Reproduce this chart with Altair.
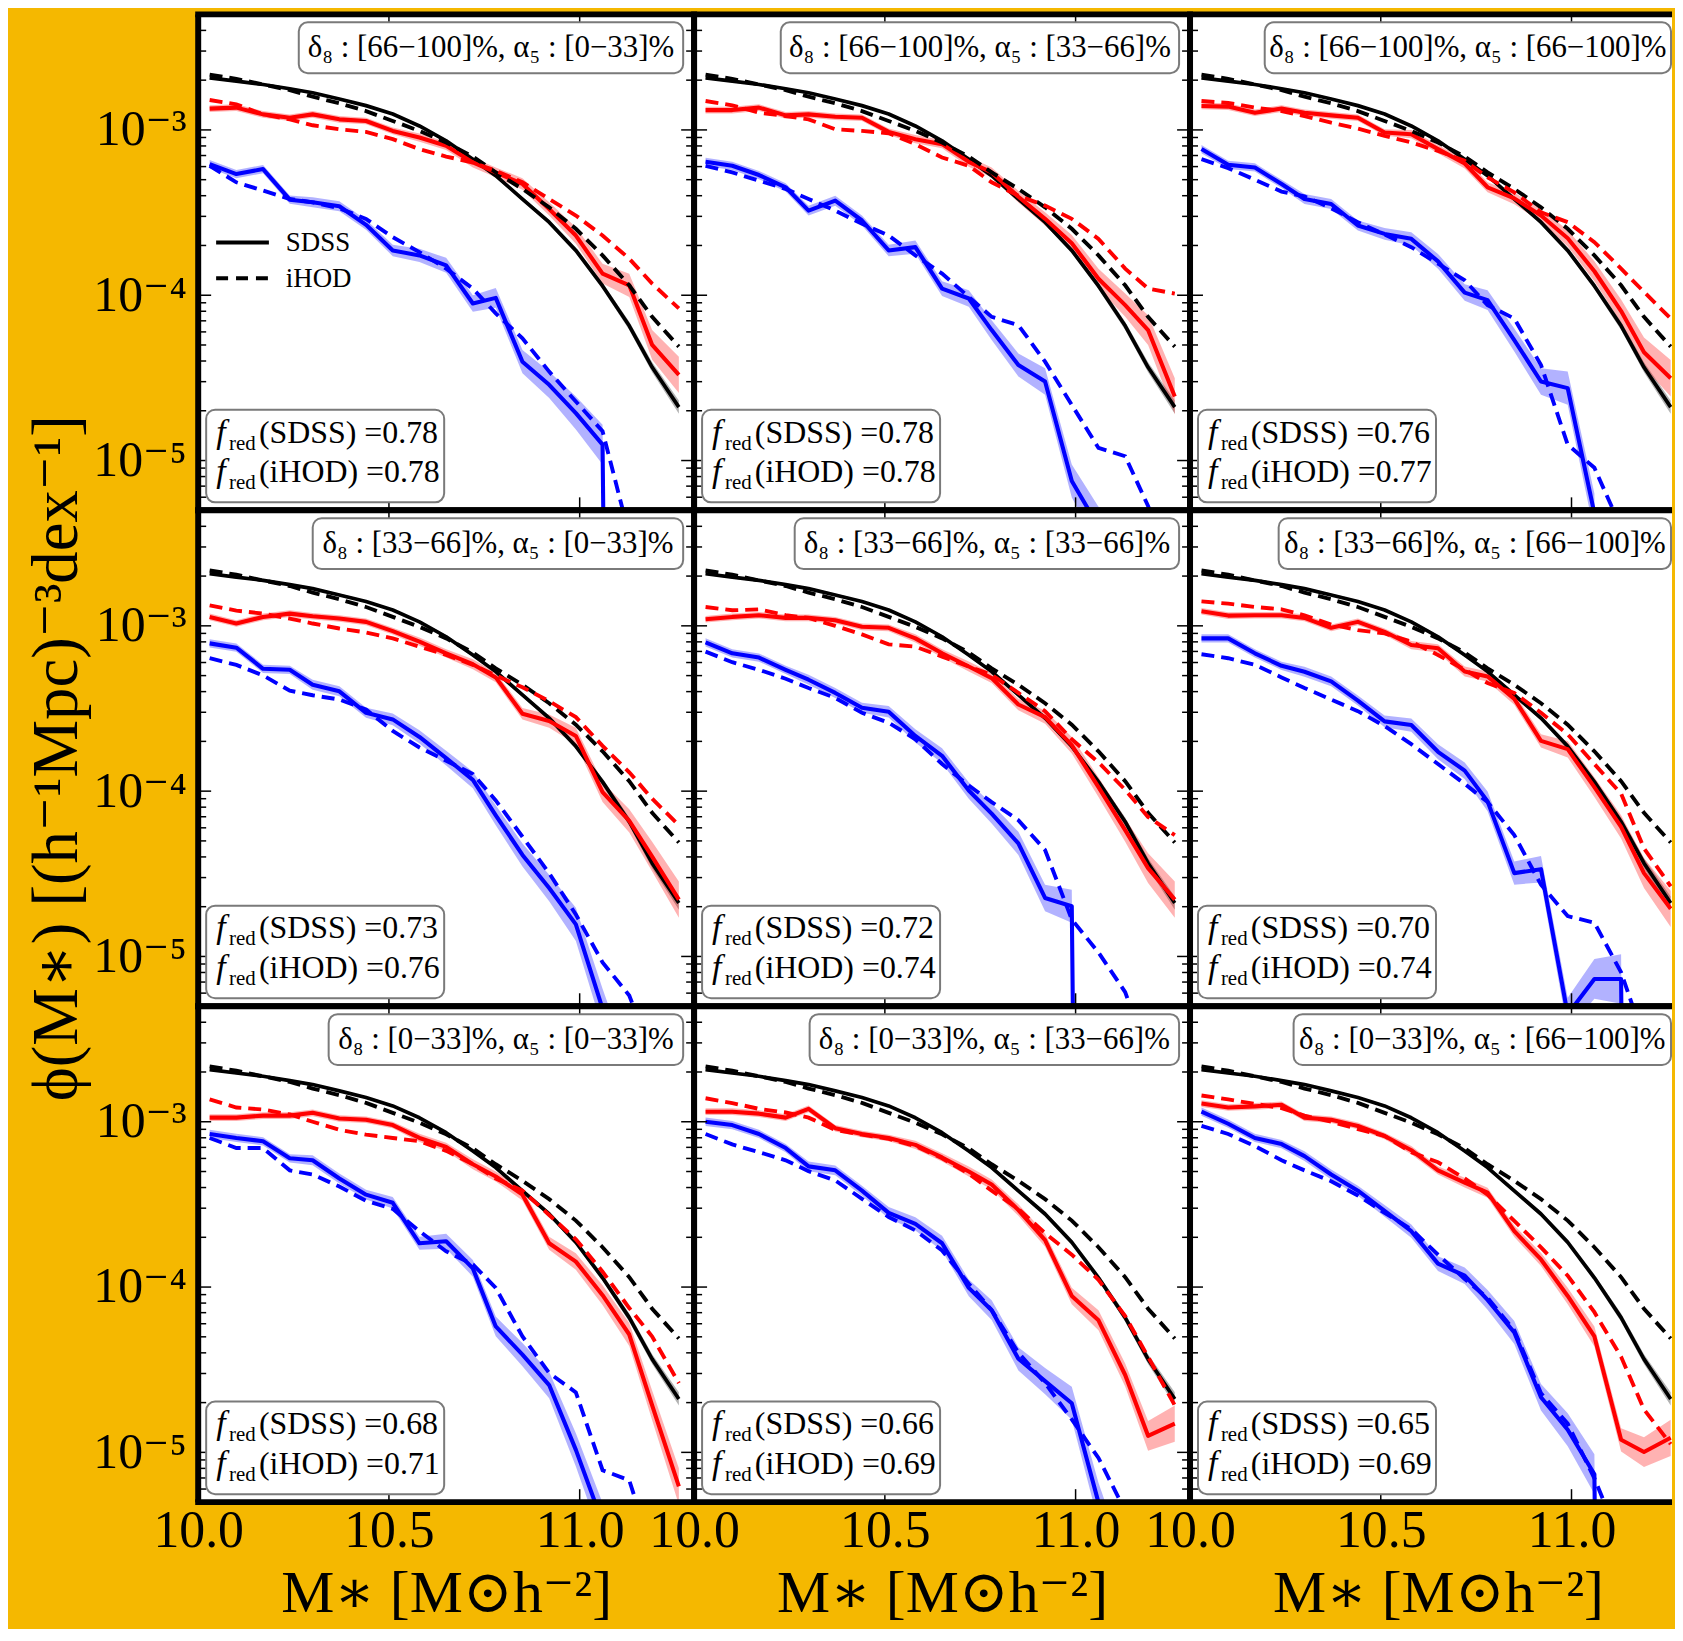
import altair as alt
import pandas as pd

# ---------------- values ----------------
MASS = [10.03, 10.10, 10.17, 10.24, 10.30, 10.37, 10.44, 10.51, 10.58, 10.65,
        10.72, 10.78, 10.85, 10.92, 10.99, 11.06, 11.13, 11.19, 11.26]

D8_BINS = ["[66−100]%", "[33−66]%", "[0−33]%"]      # panel rows
A5_BINS = ["[0−33]%", "[33−66]%", "[66−100]%"]      # panel columns
F_RED_SDSS = [0.78, 0.78, 0.76, 0.73, 0.72, 0.70, 0.68, 0.66, 0.65]
F_RED_IHOD = [0.78, 0.78, 0.77, 0.76, 0.74, 0.74, 0.71, 0.69, 0.69]

E = -20.0  # log10 of an empty bin (phi = 0)

# log10 phi, all galaxies (identical in every panel)
ALL_SDSS = [-2.685, -2.705, -2.725, -2.751, -2.775, -2.813, -2.853, -2.904, -2.976, -3.066,
            -3.177, -3.277, -3.418, -3.558, -3.729, -3.944, -4.185, -4.436, -4.677]
ALL_IHOD = [-2.665, -2.691, -2.725, -2.759, -2.799, -2.839, -2.886, -2.946, -3.006, -3.076,
            -3.161, -3.257, -3.357, -3.468, -3.598, -3.759, -3.940, -4.131, -4.311]

RED_SDSS = [
    [-2.871, -2.865, -2.906, -2.926, -2.906, -2.936, -2.946, -3.006, -3.046, -3.096, -3.197, -3.257, -3.327, -3.478, -3.639, -3.869, -3.940, -4.301, -4.482],
    [-2.880, -2.880, -2.865, -2.912, -2.906, -2.920, -2.926, -3.012, -3.056, -3.086, -3.193, -3.257, -3.404, -3.538, -3.685, -3.900, -4.060, -4.211, -4.612],
    [-2.855, -2.859, -2.896, -2.871, -2.896, -2.912, -2.926, -3.016, -3.026, -3.116, -3.203, -3.347, -3.414, -3.518, -3.655, -3.855, -4.096, -4.345, -4.502],
    [-2.946, -2.986, -2.946, -2.926, -2.942, -2.956, -2.976, -3.032, -3.096, -3.166, -3.232, -3.312, -3.532, -3.576, -3.666, -4.006, -4.180, -4.396, -4.656],
    [-2.960, -2.946, -2.936, -2.952, -2.952, -2.966, -3.006, -3.012, -3.076, -3.166, -3.246, -3.316, -3.476, -3.552, -3.722, -3.976, -4.236, -4.466, -4.656],
    [-2.912, -2.938, -2.936, -2.936, -2.952, -3.012, -2.976, -3.036, -3.116, -3.136, -3.276, -3.306, -3.442, -3.696, -3.746, -3.976, -4.216, -4.496, -4.712],
    [-2.975, -2.975, -2.963, -2.963, -2.946, -2.980, -2.988, -3.020, -3.098, -3.152, -3.257, -3.331, -3.441, -3.735, -3.846, -4.049, -4.287, -4.716, -5.206],
    [-2.939, -2.939, -2.951, -2.975, -2.922, -3.039, -3.074, -3.098, -3.140, -3.216, -3.301, -3.380, -3.534, -3.716, -4.054, -4.201, -4.532, -4.900, -4.826],
    [-2.890, -2.914, -2.907, -2.897, -2.975, -2.988, -3.025, -3.086, -3.172, -3.294, -3.368, -3.429, -3.662, -3.833, -4.054, -4.299, -4.924, -4.998, -4.912],
]
RED_IHOD = [
    [-2.819, -2.845, -2.906, -2.936, -2.972, -2.996, -3.012, -3.056, -3.116, -3.161, -3.197, -3.247, -3.317, -3.418, -3.518, -3.639, -3.779, -3.930, -4.080],
    [-2.825, -2.851, -2.896, -2.916, -2.936, -2.996, -3.006, -3.020, -3.086, -3.167, -3.217, -3.317, -3.398, -3.458, -3.538, -3.659, -3.839, -3.960, -3.990],
    [-2.825, -2.837, -2.865, -2.886, -2.916, -2.956, -2.992, -3.036, -3.076, -3.127, -3.187, -3.287, -3.378, -3.498, -3.558, -3.679, -3.839, -3.980, -4.141],
    [-2.876, -2.908, -2.926, -2.956, -2.986, -3.016, -3.040, -3.076, -3.126, -3.176, -3.236, -3.300, -3.372, -3.456, -3.552, -3.726, -3.886, -4.046, -4.206],
    [-2.886, -2.906, -2.900, -2.936, -2.952, -3.000, -3.052, -3.112, -3.126, -3.186, -3.246, -3.296, -3.406, -3.516, -3.686, -3.826, -3.992, -4.156, -4.266],
    [-2.852, -2.866, -2.886, -2.900, -2.936, -2.992, -3.026, -3.046, -3.096, -3.176, -3.266, -3.346, -3.406, -3.526, -3.656, -3.836, -4.016, -4.346, -4.576],
    [-2.865, -2.914, -2.926, -2.956, -3.000, -3.049, -3.078, -3.098, -3.118, -3.176, -3.257, -3.343, -3.417, -3.564, -3.711, -3.907, -4.127, -4.299, -4.581],
    [-2.858, -2.887, -2.922, -2.944, -2.975, -3.049, -3.078, -3.103, -3.147, -3.221, -3.314, -3.417, -3.527, -3.674, -3.804, -3.956, -4.176, -4.422, -4.716],
    [-2.841, -2.865, -2.892, -2.917, -2.963, -3.000, -3.044, -3.086, -3.184, -3.245, -3.343, -3.441, -3.600, -3.760, -3.931, -4.152, -4.422, -4.740, -4.950],
]
BLUE_SDSS = [
    [-3.207, -3.267, -3.237, -3.422, -3.438, -3.462, -3.574, -3.729, -3.759, -3.819, -4.050, -4.016, -4.402, -4.542, -4.713, -4.904, E, E, E],
    [-3.193, -3.217, -3.273, -3.347, -3.488, -3.428, -3.548, -3.729, -3.709, -3.960, -4.020, -4.211, -4.422, -4.522, -5.124, -5.400, -5.500, -6.000, E],
    [-3.116, -3.211, -3.227, -3.327, -3.418, -3.448, -3.578, -3.629, -3.659, -3.795, -3.984, -4.030, -4.271, -4.522, -4.562, -5.320, E, E, E],
    [-3.106, -3.132, -3.260, -3.266, -3.356, -3.396, -3.526, -3.566, -3.672, -3.800, -3.932, -4.146, -4.386, -4.586, -4.806, -5.316, -5.800, E, E],
    [-3.100, -3.166, -3.192, -3.266, -3.326, -3.406, -3.496, -3.520, -3.666, -3.786, -3.996, -4.136, -4.316, -4.646, -4.696, E, E, E, E],
    [-3.076, -3.076, -3.166, -3.242, -3.278, -3.336, -3.452, -3.578, -3.600, -3.762, -3.876, -4.062, -4.496, -4.472, -5.350, -5.136, -5.136, E, E],
    [-3.074, -3.098, -3.118, -3.221, -3.233, -3.343, -3.441, -3.490, -3.735, -3.723, -3.887, -4.238, -4.409, -4.593, -4.985, -5.426, -5.450, -5.600, E],
    [-3.000, -3.020, -3.074, -3.159, -3.270, -3.294, -3.417, -3.551, -3.618, -3.735, -4.005, -4.140, -4.434, -4.569, -4.703, -5.304, -5.800, E, E],
    [-2.939, -3.012, -3.098, -3.135, -3.208, -3.319, -3.417, -3.539, -3.662, -3.858, -3.931, -4.078, -4.275, -4.667, -4.863, -5.132, E, E, E],
]
BLUE_IHOD = [
    [-3.217, -3.317, -3.367, -3.418, -3.438, -3.474, -3.538, -3.649, -3.739, -3.839, -3.960, -4.110, -4.261, -4.462, -4.643, -4.823, -5.450, -5.800, -6.200],
    [-3.217, -3.257, -3.307, -3.357, -3.418, -3.488, -3.568, -3.639, -3.759, -3.869, -4.010, -4.131, -4.181, -4.402, -4.663, -4.924, -4.974, -5.275, -5.700],
    [-3.177, -3.231, -3.301, -3.373, -3.402, -3.474, -3.558, -3.633, -3.709, -3.809, -3.910, -4.060, -4.141, -4.422, -4.904, -5.044, -5.406, -5.800, -6.200],
    [-3.196, -3.236, -3.300, -3.392, -3.420, -3.446, -3.506, -3.636, -3.736, -3.816, -3.896, -4.056, -4.276, -4.496, -4.746, -5.036, -5.236, -5.600, -6.000],
    [-3.156, -3.220, -3.266, -3.320, -3.376, -3.436, -3.526, -3.586, -3.686, -3.836, -3.966, -4.066, -4.176, -4.356, -4.776, -4.976, -5.216, -5.600, -6.000],
    [-3.172, -3.196, -3.236, -3.312, -3.376, -3.446, -3.516, -3.606, -3.716, -3.836, -3.956, -4.066, -4.266, -4.566, -4.756, -4.796, -5.096, -5.500, -6.000],
    [-3.098, -3.159, -3.159, -3.294, -3.319, -3.392, -3.478, -3.527, -3.662, -3.784, -3.863, -4.005, -4.299, -4.520, -4.637, -5.108, -5.169, -5.600, -6.000],
    [-3.074, -3.137, -3.184, -3.233, -3.299, -3.355, -3.466, -3.576, -3.657, -3.779, -3.980, -4.140, -4.397, -4.581, -4.801, -5.034, -5.353, -5.800, -6.200],
    [-3.025, -3.074, -3.147, -3.233, -3.294, -3.360, -3.446, -3.551, -3.650, -3.804, -3.951, -4.066, -4.262, -4.642, -4.826, -5.157, -5.549, -6.000, -6.400],
]

# half widths (dex) of the shaded SDSS uncertainty bands
BAND_ALL = [0.008, 0.008, 0.008, 0.008, 0.008, 0.008, 0.008, 0.008, 0.008, 0.010,
            0.010, 0.012, 0.012, 0.015, 0.018, 0.020, 0.025, 0.030, 0.040]
BAND_RED = [0.020, 0.020, 0.020, 0.020, 0.020, 0.020, 0.020, 0.020, 0.025, 0.025,
            0.030, 0.030, 0.035, 0.040, 0.050, 0.060, 0.070, 0.090, 0.110]
BAND_BLUE = [0.025, 0.025, 0.025, 0.025, 0.030, 0.030, 0.030, 0.035, 0.040, 0.045,
             0.050, 0.060, 0.070, 0.080, 0.100, 0.120, 0.150, 0.200, 0.200]

X_LABELS = [10.0, 10.5, 11.0]
X_INNER_TICKS = [10.5, 11.0]
Y_MAJOR = [1e-3, 1e-4, 1e-5]
Y_MINOR = [6e-6, 7e-6, 8e-6, 9e-6,
           2e-5, 3e-5, 4e-5, 5e-5, 6e-5, 7e-5, 8e-5, 9e-5,
           2e-4, 3e-4, 4e-4, 5e-4, 6e-4, 7e-4, 8e-4, 9e-4,
           2e-3, 3e-3, 4e-3]

# ---------------- layout / style ----------------
SERIF = "Liberation Serif, DejaVu Serif, serif"
ORANGE = "#F5B800"
RED, BLUE, BLACK = "#FF0000", "#0000FF", "#000000"
DASH = [13, 7]
W, H = 498, 498
W_LAST = 484
X_MAX = 11.3
X_MAX_LAST = 10.0 + 1.3 * W_LAST / W
BOX_W = [386, 400, 408, 372, 386, 394, 356, 371, 379]
ONE = pd.DataFrame({"k": [0]})


def line_table(vals):
    return pd.DataFrame({"mass": MASS, "phi": [10.0 ** v for v in vals]})


def band_table(vals, band):
    return pd.DataFrame({
        "mass": MASS,
        "lo": [10.0 ** (v - b) for v, b in zip(vals, band)],
        "hi": [10.0 ** (v + b) for v, b in zip(vals, band)],
    })


def make_panel(i):
    r, c = divmod(i, 3)
    last = c == 2
    w = W_LAST if last else W
    xs = alt.Scale(domain=[10.0, X_MAX_LAST if last else X_MAX], nice=False, zero=False)
    ys = alt.Scale(type="log", domain=[5e-6, 5e-3], nice=False)
    if r == 2:
        xa = alt.Axis(values=X_LABELS, format=".1f", labelFont=SERIF, labelFontSize=52,
                      labelColor="black", labelPadding=4, labelFlush=False, labelOverlap=False,
                      ticks=False, tickSize=0, domain=False, grid=False,
                      title="M∗ [M⊙h⁻²]", titleFont=SERIF, titleFontSize=60,
                      titleFontWeight="normal", titleColor="black", titleX=W / 2, titleY=110,
                      titleAlign="center", titleBaseline="alphabetic")
    else:
        xa = None
    if c == 0:
        ya = alt.Axis(values=Y_MAJOR,
                      labelExpr="datum.value > 5e-4 ? '10⁻³' : (datum.value > 5e-5 ? '10⁻⁴' : '10⁻⁵')",
                      labelFont=SERIF, labelFontSize=50, labelColor="black", labelPadding=12,
                      labelFlush=False, labelOverlap=False, ticks=False, tickSize=0,
                      domain=False, grid=False, title=None)
    else:
        ya = None

    def X(f):
        return alt.X(f, type="quantitative", scale=xs, axis=xa)

    def Y(f):
        return alt.Y(f, type="quantitative", scale=ys, axis=ya)

    layers = []
    # uncertainty bands
    for vals, band, col in [(ALL_SDSS, BAND_ALL, BLACK), (RED_SDSS[i], BAND_RED, RED),
                            (BLUE_SDSS[i], BAND_BLUE, BLUE)]:
        layers.append(alt.Chart(band_table(vals, band)).mark_area(
            clip=True, color=col, opacity=0.3).encode(x=X("mass"), y=Y("lo"), y2=alt.Y2("hi")))
    # SDSS solid lines
    for vals, col, sw in [(ALL_SDSS, BLACK, 3.7), (RED_SDSS[i], RED, 4.1), (BLUE_SDSS[i], BLUE, 4.1)]:
        layers.append(alt.Chart(line_table(vals)).mark_line(
            clip=True, color=col, strokeWidth=sw, strokeJoin="round").encode(x=X("mass"), y=Y("phi")))
    # iHOD dashed lines
    for vals, col in [(ALL_IHOD, BLACK), (RED_IHOD[i], RED), (BLUE_IHOD[i], BLUE)]:
        layers.append(alt.Chart(line_table(vals)).mark_line(
            clip=True, color=col, strokeWidth=3.9, strokeDash=DASH).encode(x=X("mass"), y=Y("phi")))

    # inward ticks
    tk = dict(color="black", strokeWidth=1.5)
    ymaj = pd.DataFrame({"v": Y_MAJOR})
    ymin = pd.DataFrame({"v": Y_MINOR})
    xin = pd.DataFrame({"v": X_INNER_TICKS})
    layers.append(alt.Chart(ymaj).mark_rule(**tk).encode(y=Y("v"), x=alt.value(0), x2=alt.value(13)))
    layers.append(alt.Chart(ymin).mark_rule(**tk).encode(y=Y("v"), x=alt.value(0), x2=alt.value(8)))
    if not last:
        layers.append(alt.Chart(ymaj).mark_rule(**tk).encode(y=Y("v"), x=alt.value(W), x2=alt.value(W - 13)))
        layers.append(alt.Chart(ymin).mark_rule(**tk).encode(y=Y("v"), x=alt.value(W), x2=alt.value(W - 8)))
    layers.append(alt.Chart(xin).mark_rule(**tk).encode(x=X("v"), y=alt.value(0), y2=alt.value(13)))
    layers.append(alt.Chart(xin).mark_rule(**tk).encode(x=X("v"), y=alt.value(H), y2=alt.value(H - 13)))

    # thick frame
    fr = dict(color="black", strokeWidth=6)
    xr = w if last else w + 3
    layers.append(alt.Chart(ONE).mark_rule(**fr).encode(x=alt.value(-3), x2=alt.value(xr), y=alt.value(0)))
    layers.append(alt.Chart(ONE).mark_rule(**fr).encode(x=alt.value(-3), x2=alt.value(xr), y=alt.value(H)))
    layers.append(alt.Chart(ONE).mark_rule(**fr).encode(x=alt.value(0), y=alt.value(0), y2=alt.value(H)))
    if not last:
        layers.append(alt.Chart(ONE).mark_rule(**fr).encode(x=alt.value(W), y=alt.value(0), y2=alt.value(H)))

    # top-right selection box
    bx2 = (w - 1) if last else (W - 11)
    bx1 = bx2 - BOX_W[i]
    box = dict(fill="white", stroke="#7a7a7a", strokeWidth=2, cornerRadius=9)
    layers.append(alt.Chart(ONE).mark_rect(**box).encode(
        x=alt.value(bx1), x2=alt.value(bx2), y=alt.value(8), y2=alt.value(59)))
    sel = f"δ₈ : {D8_BINS[r]}, α₅ : {A5_BINS[c]}"
    layers.append(alt.Chart(pd.DataFrame({"t": [sel]})).mark_text(
        font=SERIF, fontSize=31, color="black", align="center", baseline="middle").encode(
        x=alt.value((bx1 + bx2) / 2), y=alt.value(34), text="t:N"))

    # f_red box
    layers.append(alt.Chart(ONE).mark_rect(**box).encode(
        x=alt.value(8), x2=alt.value(247), y=alt.value(397), y2=alt.value(490)))
    txt = dict(font=SERIF, color="black", align="left", baseline="alphabetic",
               lineBreak="\n", lineHeight=40)
    layers.append(alt.Chart(pd.DataFrame({"t": ["f\nf"]})).mark_text(
        fontSize=34, fontStyle="italic", **txt).encode(x=alt.value(18), y=alt.value(430), text="t:N"))
    layers.append(alt.Chart(pd.DataFrame({"t": ["red\nred"]})).mark_text(
        fontSize=21, **txt).encode(x=alt.value(31), y=alt.value(437), text="t:N"))
    vals_txt = f"(SDSS) ={F_RED_SDSS[i]:.2f}\n(iHOD) ={F_RED_IHOD[i]:.2f}"
    layers.append(alt.Chart(pd.DataFrame({"t": [vals_txt]})).mark_text(
        fontSize=32, **txt).encode(x=alt.value(61), y=alt.value(430), text="t:N"))

    if i == 0:  # legend
        layers.append(alt.Chart(ONE).mark_rule(color="black", strokeWidth=4).encode(
            x=alt.value(18), x2=alt.value(71), y=alt.value(229)))
        layers.append(alt.Chart(ONE).mark_rule(color="black", strokeWidth=4, strokeDash=[12, 8]).encode(
            x=alt.value(18), x2=alt.value(71), y=alt.value(265)))
        layers.append(alt.Chart(pd.DataFrame({"t": ["SDSS\niHOD"]})).mark_text(
            font=SERIF, fontSize=27, color="black", align="left", baseline="alphabetic",
            lineBreak="\n", lineHeight=36).encode(x=alt.value(88), y=alt.value(238), text="t:N"))

    if i == 3:  # shared y title + left anchor of the figure
        layers.append(alt.Chart(pd.DataFrame({"t": ["ϕ(M∗) [(h⁻¹Mpc)⁻³dex⁻¹]"]})).mark_text(
            font=SERIF, fontSize=65, color="black", angle=270, align="center",
            baseline="middle").encode(x=alt.value(-142), y=alt.value(H / 2), text="t:N"))
        layers.append(alt.Chart(ONE).mark_rule(strokeOpacity=0, color="black").encode(
            x=alt.value(-191), y=alt.value(200), y2=alt.value(210)))

    if i == 6:  # bottom anchor so the orange background reaches the page bottom
        layers.append(alt.Chart(ONE).mark_rule(strokeOpacity=0, color="black").encode(
            x=alt.value(100), x2=alt.value(110), y=alt.value(H + 124)))

    return alt.layer(*layers).properties(width=w, height=H)


panels = [make_panel(i) for i in range(9)]
chart = alt.concat(*panels, columns=3, spacing=0, bounds="flush", align="each").resolve_scale(
    x="independent", y="independent"
).properties(background=ORANGE, padding=0).configure_view(stroke=None, fill="white")

chart.save("out.html", embed_options={"renderer": "svg", "actions": False})
